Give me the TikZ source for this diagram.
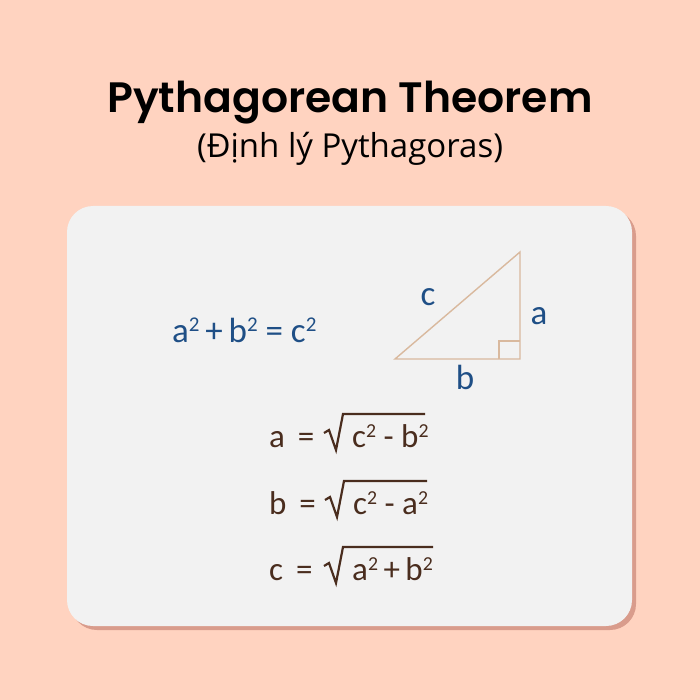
\documentclass[tikz,border=0pt]{standalone}
\usepackage{fontspec}
\setmainfont{Carlito}
\newfontfamily\titlefont{Poppins}[UprightFont=* SemiBold]
\newfontfamily\subfont{Open Sans}
\newfontfamily\mathfont{Carlito}
\newcommand\sqr{\raisebox{0.3em}{\scalebox{0.6}{2}}}
\definecolor{bgpeach}{HTML}{FFD3C0}
\definecolor{cardgray}{HTML}{F2F2F2}
\definecolor{shadowc}{HTML}{D99C8C}
\definecolor{bluetxt}{HTML}{1F4F86}
\definecolor{browntxt}{HTML}{4A2D1E}
\definecolor{tristroke}{HTML}{D9B99E}
\tikzset{
  bluef/.style={text=bluetxt, font=\mathfont\fontsize{35}{40}\selectfont, inner sep=0pt},
  brownf/.style={text=browntxt, font=\mathfont\fontsize{33}{38}\selectfont, inner sep=0pt, anchor=base west},
  radline/.style={draw=browntxt, line width=2.2pt, line join=miter},
  triline/.style={draw=tristroke, line width=1.4pt},
}
\begin{document}
\begin{tikzpicture}[x=1pt,y=-1pt]
\useasboundingbox (0,0) rectangle (700,700);
\fill[bgpeach] (0,0) rectangle (700,700);
% card
\fill[shadowc, rounded corners=26pt] (71,210) rectangle (636,630);
\fill[cardgray, rounded corners=26pt] (67,206) rectangle (632,626);
% title
\node[inner sep=0pt, anchor=base] (title) at (350,113) {\titlefont\fontsize{42.5}{48}\selectfont Pythagorean Theorem};
\node[inner sep=0pt, anchor=base] (subtitle) at (350,158) {\subfont\fontsize{33}{38}\selectfont (Định lý Pythagoras)};
% main formula
\node[bluef, anchor=base west] (eq) at (172,342) {a\sqr\,+\,b\sqr{} = c\sqr};
% triangle
\coordinate (A) at (395,359);
\coordinate (C) at (520,359);
\coordinate (B) at (520,252);
\draw[triline] (A) -- (C) -- (B) -- cycle;
\draw[triline] (499,359) -- (499,341) -- (520,341);
\node[bluef, anchor=base] (lc) at (428,305) {c};
\node[bluef, anchor=base] (la) at (539,324) {a};
\node[bluef, anchor=base] (lb) at (465,389) {b};
% derived formulas
\node[brownf] (r1l) at (269,447) {a \,=};
\node[brownf] (r1c) at (352,447) {c\sqr{} - b\sqr};
\draw[radline] (324,433) -- (329,430) -- (336,450) -- (343,414) -- (425,414);
\node[brownf] (r2l) at (269,514) {b \,=};
\node[brownf] (r2c) at (353,514) {c\sqr{} - a\sqr};
\draw[radline] (325,500) -- (330,497) -- (337,517) -- (344,481) -- (427,481);
\node[brownf] (r3l) at (269,580) {c \,=};
\node[brownf] (r3c) at (352,580) {a\sqr\,+\,b\sqr};
\draw[radline] (324,566) -- (329,563) -- (336,583) -- (343,547) -- (433,547);
\end{tikzpicture}
\end{document}
